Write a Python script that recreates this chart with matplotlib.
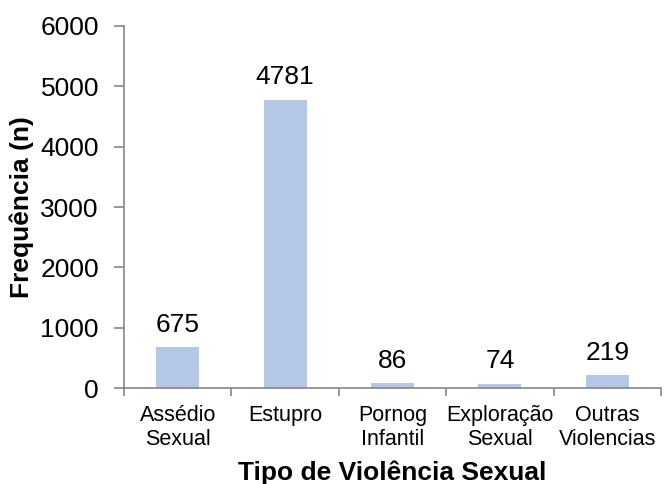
import matplotlib
matplotlib.use("Agg")
from matplotlib import pyplot as plt

categorias = ["Assédio\nSexual", "Estupro", "Pornog\nInfantil", "Exploração\nSexual", "Outras\nViolencias"]
frequencia = [675, 4781, 86, 74, 219]
yticks = [0, 1000, 2000, 3000, 4000, 5000, 6000]

plt.rcParams['font.family'] = ['Liberation Sans', 'DejaVu Sans']

fig = plt.figure(figsize=(6.64, 4.84), dpi=100)
ax = fig.add_axes([0.1867, 0.1983, 0.8088, 0.748])

x = range(len(categorias))
ax.bar(x, frequencia, width=0.4, color='#B4C7E7')

for i, v in zip(x, frequencia):
    ax.annotate(str(v), (i, v), xytext=(0, 11), textcoords='offset points',
                ha='center', va='baseline', fontsize=19)

ax.set_xlim(-0.5, len(categorias) - 0.5)
ax.set_ylim(0, 6000)
ax.set_yticks(yticks)
ax.set_yticklabels([str(t) for t in yticks], fontsize=19)
ax.set_xticks(list(x))
ax.set_xticklabels(categorias, fontsize=15.5, linespacing=1.2)
ax.set_xticks([i + 0.5 for i in range(-1, len(categorias))], minor=True)
ax.tick_params(axis='x', which='major', length=0, pad=12)
ax.tick_params(axis='x', which='minor', length=6, color='#868686', width=1.2)
ax.tick_params(axis='y', length=7, color='#868686', width=1.2, pad=11)

for s in ['top', 'right']:
    ax.spines[s].set_visible(False)
for s in ['left', 'bottom']:
    ax.spines[s].set_color('#868686')
    ax.spines[s].set_linewidth(1.2)

ax.set_xlabel("Tipo de Violência Sexual", fontsize=19, fontweight='bold')
ax.set_ylabel("Frequência (n)", fontsize=19, fontweight='bold')
ax.xaxis.set_label_coords(0.5, -0.2)
ax.yaxis.set_label_coords(-0.167, 0.5)

fig.savefig("out.png", dpi=100)
